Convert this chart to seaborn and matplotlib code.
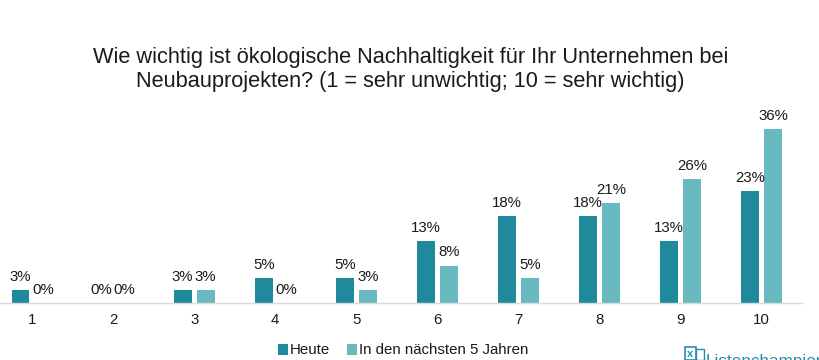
import matplotlib

matplotlib.use("Agg")
import matplotlib.pyplot as plt
import pandas as pd
import seaborn as sns
from matplotlib.patches import Rectangle

TITLE = (
    "Wie wichtig ist ökologische Nachhaltigkeit für Ihr Unternehmen bei\n"
    "Neubauprojekten? (1 = sehr unwichtig; 10 = sehr wichtig)"
)
categories = ["1", "2", "3", "4", "5", "6", "7", "8", "9", "10"]
heute = [2.6, 0, 2.6, 5.1, 5.1, 12.8, 17.9, 17.9, 12.8, 23.1]
naechste = [0, 0, 2.6, 0, 2.6, 7.7, 5.1, 20.6, 25.6, 35.9]
series_names = ["Heute", "In den nächsten 5 Jahren"]
colors = ["#1f8a9c", "#69b9c0"]
INK = "#1a1a1a"
BRAND = "#2a8fa6"

df = pd.DataFrame(
    {
        "Antwort": categories * 2,
        "Anteil": heute + naechste,
        "Zeitraum": [series_names[0]] * 10 + [series_names[1]] * 10,
    }
)

sns.set_theme(style="white")
plt.rcParams["font.family"] = ["Liberation Sans", "DejaVu Sans"]

fig = plt.figure(figsize=(8.2, 3.6), dpi=100)
ax = fig.add_axes([0, 57 / 360, 802 / 820, 194 / 360])
sns.barplot(
    data=df,
    x="Antwort",
    y="Anteil",
    hue="Zeitraum",
    palette=colors,
    width=0.568,
    gap=0.22,
    saturation=1,
    linewidth=0,
    ax=ax,
)

for container in ax.containers:
    ax.bar_label(
        container,
        labels=[f"{v:.0f}%" for v in container.datavalues],
        padding=4.5,
        fontsize=10.8,
        color=INK,
    )

ax.set_xlim(-0.395, 9.5)
ax.set_ylim(0, 40)
ax.set_yticks([])
ax.set_xlabel("")
ax.set_ylabel("")
ax.tick_params(axis="x", length=0, pad=7, labelsize=10.8, labelcolor=INK)
sns.despine(ax=ax, left=True)
ax.spines["bottom"].set_color("#d9d9d9")
ax.spines["bottom"].set_linewidth(1.0)

ax.legend(
    frameon=False,
    title=None,
    ncol=2,
    fontsize=10.8,
    loc="center",
    bbox_to_anchor=(403 / 820, 9.5 / 360),
    bbox_transform=fig.transFigure,
    handlelength=0.7,
    handleheight=0.7,
    handletextpad=0.1,
    columnspacing=1.1,
    labelcolor=INK,
)

fig.text(410.5 / 820, 1 - 69.5 / 360, TITLE, ha="center", va="center", fontsize=15.65, color=INK, linespacing=1.2)

# Listenchampion mark, cut off by the lower edge as in the source screenshot
fig.add_artist(
    Rectangle((685 / 820, 0), 11 / 820, 13 / 360, transform=fig.transFigure, fill=False, edgecolor=BRAND, linewidth=1.2)
)
fig.add_artist(
    Rectangle((696 / 820, 0), 8 / 820, 11 / 360, transform=fig.transFigure, fill=False, edgecolor=BRAND, linewidth=1.0)
)
fig.text(690.5 / 820, 6 / 360, "x", ha="center", va="center", fontsize=8, fontweight="bold", color=BRAND)
fig.text(706 / 820, -6 / 360, "Listenchampion", ha="left", va="baseline", fontsize=12.3, color=BRAND)

fig.savefig("out.png", dpi=100)
plt.close(fig)
